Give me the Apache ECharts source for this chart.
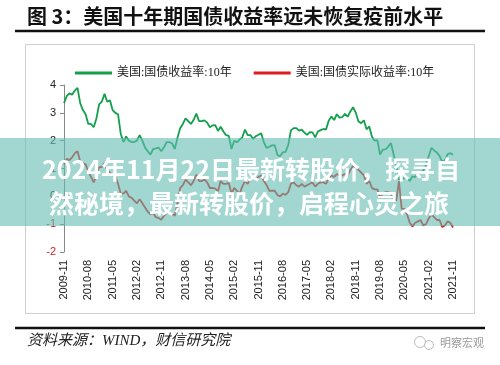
<!DOCTYPE html>
<html>
<head>
<meta charset="utf-8">
<script src="https://cdn.jsdelivr.net/npm/echarts@6/dist/echarts.min.js"></script>
<style>html,body{margin:0;padding:0;background:#fff;}#c{width:500px;height:365px;}</style>
</head>
<body>
<div id="c"></div>
<script>
// ---- data ----
const startYear = 2009, startMonth = 11, monthCount = 145; // 2009-11 .. 2021-11
const seriesNames = ['美国:国债收益率:10年', '美国:国债实际收益率:10年'];
const yTicks = [-2, -1, 0, 1, 2, 3, 4];
// 10Y nominal yield (%), monthly
const nominal10y = [
  3.35, 3.60,
  3.70, 3.65, 3.80, 3.90, 3.35, 3.10, 2.95, 2.60, 2.60, 2.48, 2.80, 3.30,
  3.40, 3.68, 3.40, 3.45, 3.10, 3.00, 2.95, 2.25, 1.95, 2.15, 2.00, 1.95,
  1.95, 2.00, 2.20, 2.00, 1.75, 1.62, 1.50, 1.70, 1.72, 1.75, 1.62, 1.76,
  1.95, 1.95, 1.90, 1.70, 2.10, 2.45, 2.60, 2.80, 2.70, 2.60, 2.75, 2.97,
  2.70, 2.70, 2.73, 2.65, 2.48, 2.55, 2.56, 2.35, 2.50, 2.33, 2.20, 2.17,
  1.70, 2.00, 1.94, 2.04, 2.12, 2.40, 2.20, 2.20, 2.06, 2.16, 2.21, 2.27,
  1.94, 1.74, 1.78, 1.83, 1.84, 1.49, 1.44, 1.58, 1.60, 1.84, 2.37, 2.45,
  2.45, 2.36, 2.40, 2.29, 2.21, 2.31, 2.30, 2.12, 2.33, 2.38, 2.42, 2.40,
  2.72, 2.87, 2.74, 2.95, 2.83, 2.85, 2.96, 2.86, 3.05, 3.20, 3.01, 2.69,
  2.63, 2.73, 2.41, 2.51, 2.14, 2.00, 2.02, 1.50, 1.68, 1.69, 1.78, 1.92,
  1.51, 1.13, 0.60, 0.64, 0.65, 0.66, 0.55, 0.72, 0.69, 0.88, 0.84, 0.93,
  1.11, 1.44, 1.74, 1.65, 1.58, 1.45, 1.24, 1.30, 1.52, 1.55, 1.50
];
// 10Y real yield (%), monthly
const real10y = [
  1.15, 1.35,
  1.30, 1.40, 1.55, 1.62, 1.25, 1.20, 1.15, 0.90, 0.70, 0.50, 0.75, 1.05,
  1.05, 1.20, 0.95, 0.85, 0.75, 0.75, 0.45, 0.10, 0.10, 0.20, 0.00, -0.05,
  -0.15, -0.25, -0.10, -0.25, -0.40, -0.55, -0.65, -0.60, -0.75, -0.78, -0.84, -0.70,
  -0.60, -0.58, -0.62, -0.70, -0.25, 0.30, 0.40, 0.60, 0.50, 0.40, 0.55, 0.78,
  0.55, 0.55, 0.60, 0.50, 0.30, 0.30, 0.28, 0.18, 0.55, 0.45, 0.45, 0.48,
  0.10, 0.30, 0.20, 0.10, 0.35, 0.55, 0.45, 0.60, 0.65, 0.60, 0.70, 0.75,
  0.55, 0.40, 0.20, 0.20, 0.20, 0.05, 0.00, 0.10, 0.05, 0.15, 0.45, 0.50,
  0.40, 0.35, 0.45, 0.35, 0.40, 0.45, 0.50, 0.35, 0.45, 0.50, 0.50, 0.45,
  0.65, 0.75, 0.70, 0.80, 0.75, 0.75, 0.80, 0.75, 0.95, 1.10, 1.05, 0.95,
  0.85, 0.75, 0.45, 0.55, 0.30, 0.25, 0.25, -0.05, 0.10, 0.15, 0.15, 0.10,
  -0.10, -0.15, 0.55, -0.45, -0.45, -0.65, -0.95, -1.08, -0.95, -0.90, -0.85, -1.05,
  -1.00, -0.80, -0.65, -0.75, -0.85, -0.85, -1.10, -1.05, -0.90, -0.95, -1.12
];
// month categories
const categories = [];
for (let i = 0; i < monthCount; i++) {
  const t = (startMonth - 1) + i;
  const y = startYear + Math.floor(t / 12);
  const m = (t % 12) + 1;
  categories.push(y + '-' + (m < 10 ? '0' + m : m));
}
const titleText = '图 3：美国十年期国债收益率远未恢复疫前水平';
const sourceText = '资料来源：WIND，财信研究院';
const watermarkText = '明察宏观';
const bannerLines = ['2024年11月22日最新转股价，探寻自', '然秘境，最新转股价，启程心灵之旅'];

const chart = echarts.init(document.getElementById('c'), null, {renderer: 'canvas'});
const cjk = "'Noto Sans CJK SC', sans-serif";
const serifCjk = "'Liberation Serif', 'Noto Sans CJK SC', serif";
chart.setOption({
  animation: false,
  backgroundColor: '#fff',
  grid: {left: 64, right: 47, top: 85, bottom: 113, containLabel: false},
  legend: {
    left: 70, top: 62, itemWidth: 37, itemHeight: 3, itemGap: 22, icon: 'rect',
    textStyle: {fontSize: 12, color: '#222', fontFamily: serifCjk},
    data: seriesNames
  },
  xAxis: {
    type: 'category', data: categories, boundaryGap: false,
    axisLine: {show: false}, axisTick: {show: false},
    axisLabel: {interval: 8, rotate: 90, fontSize: 11, color: '#222', margin: 8, fontFamily: "'Liberation Sans', sans-serif"}
  },
  yAxis: {
    type: 'value', min: yTicks[0], max: yTicks[yTicks.length - 1], interval: 1,
    splitLine: {show: false},
    axisLine: {show: true, lineStyle: {color: '#888', width: 1}},
    axisTick: {show: true, length: 4, lineStyle: {color: '#888'}},
    axisLabel: {fontSize: 11, margin: 8, fontFamily: "'Liberation Sans', sans-serif",
      color: function (v) { return Number(v) < 0 ? '#d42020' : '#222'; }}
  },
  series: [
    {name: seriesNames[0], type: 'line', data: nominal10y, showSymbol: false, symbol: 'none',
     lineStyle: {color: '#12a04c', width: 1.8}, itemStyle: {color: '#12a04c'}, z: 3},
    {name: seriesNames[1], type: 'line', data: real10y, showSymbol: false, symbol: 'none',
     lineStyle: {color: '#e01b1b', width: 1.8}, itemStyle: {color: '#e01b1b'}, z: 2}
  ],
  graphic: [
    {type: 'rect', z: -1, shape: {x: 25.5, y: 44.5, width: 449, height: 269}, style: {fill: 'none', stroke: '#cfcfcf', lineWidth: 1}},
    {type: 'text', left: 27, top: 6, style: {text: titleText, font: 'bold 20px ' + cjk, fill: '#111'}},
    {type: 'line', shape: {x1: 15, y1: 31, x2: 485, y2: 31}, style: {stroke: '#111', lineWidth: 2.5}},
    {type: 'line', shape: {x1: 15, y1: 328, x2: 485, y2: 328}, style: {stroke: '#111', lineWidth: 2.5}},
    {type: 'text', left: 27, top: 334, style: {text: sourceText, font: 'italic 15px ' + serifCjk, fill: '#222'}},
    {type: 'circle', shape: {cx: 420, cy: 342, r: 5.5}, style: {fill: '#fff', stroke: '#bbb', lineWidth: 1}},
    {type: 'circle', shape: {cx: 429, cy: 345, r: 4.5}, style: {fill: '#fff', stroke: '#bbb', lineWidth: 1}},
    {type: 'text', left: 440, top: 337, style: {text: watermarkText, font: '11px ' + cjk, fill: '#9a9a9a'}},
    {type: 'group', z: 100, children: [
      {type: 'rect', z: 100, shape: {x: 0, y: 138, width: 500, height: 88}, style: {fill: 'rgba(100,188,178,0.6)'}},
      {type: 'text', z: 101, x: 251, y: 169, style: {text: bannerLines[0], font: 'bold 25px ' + cjk, fill: '#fff', textAlign: 'center', textVerticalAlign: 'middle'}},
      {type: 'text', z: 101, x: 249, y: 203, style: {text: bannerLines[1], font: 'bold 25px ' + cjk, fill: '#fff', textAlign: 'center', textVerticalAlign: 'middle'}}
    ]}
  ]
});
</script>
</body>
</html>
